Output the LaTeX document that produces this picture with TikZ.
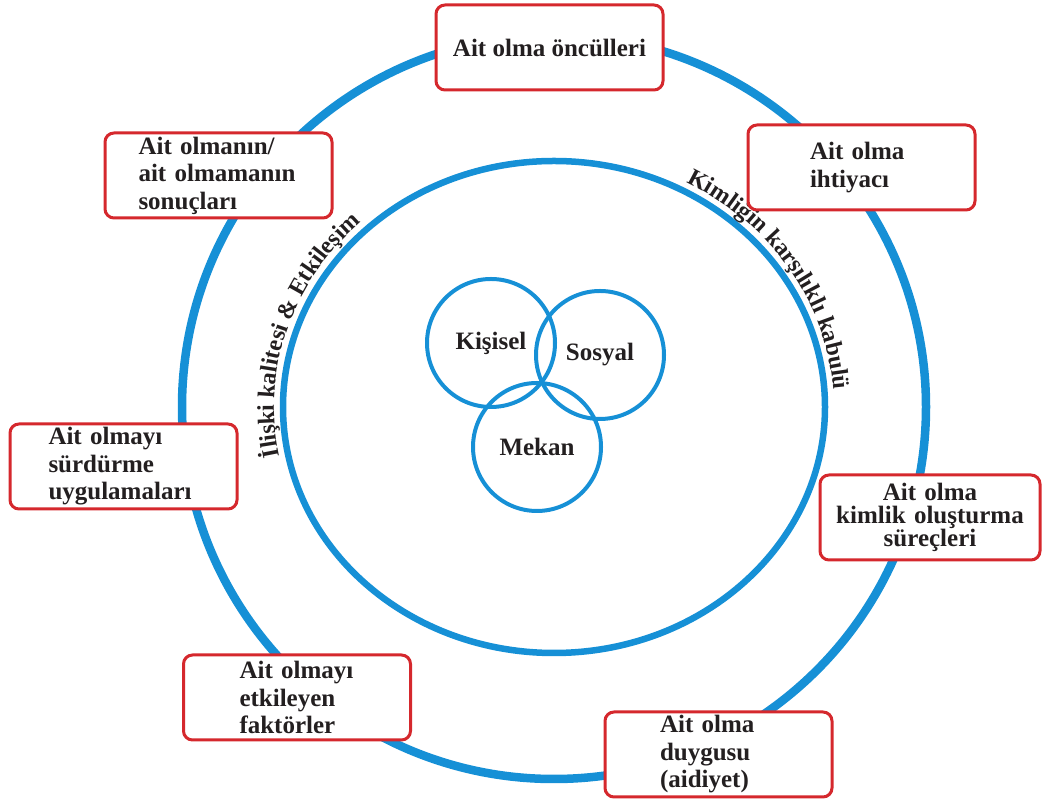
\documentclass[tikz,border=0pt]{standalone}
\usepackage{fontspec}
\setmainfont{Liberation Serif}
\usetikzlibrary{positioning,decorations.text}
\definecolor{ringblue}{RGB}{22,144,214}
\definecolor{boxred}{RGB}{213,40,45}
\definecolor{inktext}{RGB}{35,31,32}
\newcommand\ringfont{\fontsize{24}{24}\selectfont\bfseries\color{inktext}}

\begin{document}
\begin{tikzpicture}[x=1pt, y=1pt,
  font=\fontsize{25}{27.5}\selectfont\bfseries, text=inktext,
  ring/.style={draw=ringblue, line width=#1},
  card/.style={draw=boxred, line width=3pt, rounded corners=9pt, fill=white,
    minimum width=227pt, minimum height=85pt, inner ysep=0pt},
  venn/.style={circle, draw=ringblue, line width=4pt, minimum size=128pt, inner sep=0pt}]
  \useasboundingbox (0,0) rectangle (1042,800);
  \coordinate (C) at (554,393);
  % rings
  \draw[ring=8.5pt] (C) circle[radius=372];
  \draw[ring=6.5pt] (C) ellipse[x radius=271, y radius=246];
  % texts on the inner ring
  \path[decorate, decoration={text along path, text align=center,
      text={|\ringfont|İlişki kalitesi {\&} Etkileşim}}]
    ([shift={(C)}]200:280 and 255) arc[start angle=200, end angle=125, x radius=280, y radius=255];
  \path[decorate, decoration={text along path, text align=center,
      text={|\ringfont|Kimliğin karşılıklı kabulü}}]
    ([shift={(C)}]70:280 and 255) arc[start angle=70, end angle=-5, x radius=280, y radius=255];
  % Venn
  \node[venn] (kisisel) at (491,457) {Kişisel};
  \node[venn] (sosyal)  at (600,445) {Sosyal};
  \node[venn] (mekan)   at (537,353) {Mekan};
  % boxes on the outer ring
  \node[card, align=center] (oncul) at (549.5,752.5) {Ait olma öncülleri};
  \node[card, text width=103pt, inner xsep=62pt, align=left] (ihtiyac) at (861.5,632.5) {Ait olma\\ihtiyacı};
  \node[card, text width=160pt, inner xsep=33.5pt, align=left] (sonuc) at (218.5,624.5) {Ait olmanın/\\ait olmamanın\\sonuçları};
  \node[card, text width=150pt, inner xsep=38.5pt, align=left] (surdur) at (123.5,333.5) {Ait olmayı\\sürdürme\\uygulamaları};
  \node[card, minimum width=220pt, text width=200pt, inner xsep=10pt, align=center,
    font=\fontsize{25}{23}\selectfont\bfseries] (kimlik) at (930,282.5) {Ait olma\\kimlik oluşturma\\süreçleri};
  \node[card, text width=115pt, inner xsep=56pt, align=left] (etkile) at (297,102.5) {Ait olmayı\\etkileyen\\faktörler};
  \node[card, text width=117pt, inner xsep=55pt, align=left] (duygu) at (718.5,45.5) {Ait olma\\duygusu\\(aidiyet)};
\end{tikzpicture}
\end{document}
